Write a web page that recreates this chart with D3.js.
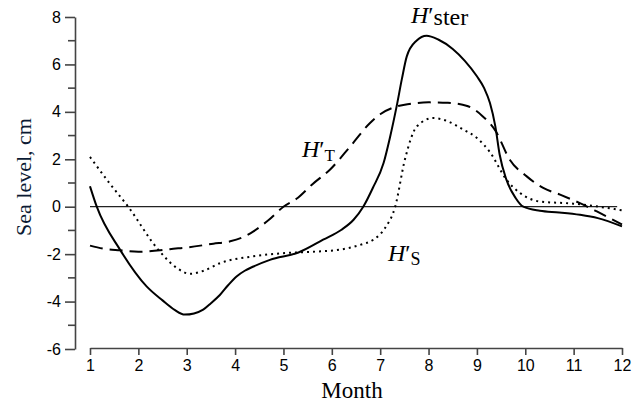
<!DOCTYPE html>
<html>
<head>
<meta charset="utf-8">
<script src="https://cdn.jsdelivr.net/npm/d3@7"></script>
<style>
  body { margin: 0; background: #fff; }
  svg { display: block; }
</style>
</head>
<body>
<div id="chart"></div>
<script>
// months (x) and sea level values (cm)
const sterMonths = [1, 1.14, 1.62, 2.17, 2.5, 2.75, 2.96, 3.15, 3.34, 3.5, 3.69, 3.86, 4.03, 4.2, 4.38, 4.72, 5.31, 5.82, 6.2, 6.45, 6.65, 6.85, 7.07, 7.2, 7.34, 7.45, 7.55, 7.75, 7.96, 8.2, 8.5, 8.75, 9.0, 9.15, 9.27, 9.38, 9.47, 9.61, 9.8, 9.96, 10.3, 10.7, 11.13, 11.5, 12];
const sterValues = [0.86, 0, -1.81, -3.36, -3.95, -4.35, -4.55, -4.5, -4.34, -4.07, -3.71, -3.3, -2.94, -2.7, -2.52, -2.24, -1.93, -1.39, -0.97, -0.55, 0, 0.8, 1.84, 2.9, 4.23, 5.4, 6.34, 7.0, 7.21, 7.05, 6.65, 6.15, 5.5, 5.0, 4.37, 3.4, 2.2, 1.14, 0.37, 0, -0.17, -0.24, -0.34, -0.48, -0.83];

const tMonths = [1, 1.3, 1.62, 2.0, 2.45, 2.65, 3.0, 3.55, 3.9, 4.2, 4.38, 4.7, 5.0, 5.3, 5.6, 5.96, 6.38, 6.79, 7.0, 7.3, 7.6, 8.0, 8.4, 8.8, 9.1, 9.39, 9.68, 10.03, 10.37, 10.72, 11.13, 11.48, 12];
const tValues = [-1.64, -1.78, -1.84, -1.9, -1.84, -1.79, -1.72, -1.56, -1.46, -1.25, -1.04, -0.55, 0, 0.38, 0.95, 1.56, 2.54, 3.53, 3.9, 4.2, 4.33, 4.4, 4.38, 4.25, 3.85, 3.18, 1.98, 1.28, 0.79, 0.51, 0.15, -0.2, -0.75];

const sMonths = [1, 1.4, 1.79, 2.41, 2.8, 3.07, 3.35, 3.69, 4.38, 5.07, 5.6, 6.17, 6.6, 6.86, 7.1, 7.31, 7.51, 7.76, 8.1, 8.4, 8.72, 9.0, 9.27, 9.61, 9.89, 10.3, 10.99, 12];
const sValues = [2.1, 1.0, 0, -1.81, -2.59, -2.83, -2.7, -2.38, -2.09, -1.95, -1.9, -1.81, -1.6, -1.39, -0.9, 0, 1.98, 3.39, 3.74, 3.6, 3.25, 2.9, 2.3, 1.14, 0.58, 0.22, 0.13, -0.15];

const monthTicks = [1, 2, 3, 4, 5, 6, 7, 8, 9, 10, 11, 12];
const levelTicks = [-6, -4, -2, 0, 2, 4, 6, 8];
const levelMinor = [-5, -3, -1, 1, 3, 5, 7];

const width = 633, height = 403;

const svg = d3.select("#chart").append("svg")
    .attr("width", width)
    .attr("height", height);

const x = d3.scaleLinear().domain([1, 12]).range([90, 622]);
const y = d3.scaleLinear().domain([-6, 8]).range([349, 17]);

const axisColor = "#444";
const tickFont = "'Liberation Sans', Arial, sans-serif";
const serif = "'Liberation Serif', 'Times New Roman', serif";

// y axis (plain hyphen for negatives, like the original)
const yAxis = svg.append("g")
    .attr("transform", "translate(75,0)")
    .call(d3.axisLeft(y).tickValues(levelTicks).tickFormat(d => String(d))
        .tickSize(10).tickSizeOuter(0).tickPadding(4));
yAxis.selectAll("text")
    .attr("font-family", tickFont)
    .attr("font-size", 16)
    .attr("fill", "#000");

// minor ticks
yAxis.selectAll(".minor")
    .data(levelMinor)
    .enter()
    .append("line")
    .attr("class", "minor")
    .attr("x1", -7)
    .attr("x2", 0)
    .attr("y1", d => y(d))
    .attr("y2", d => y(d));

// x axis, detached from y axis
const xAxis = svg.append("g")
    .attr("transform", "translate(0,348)")
    .call(d3.axisBottom(x).tickValues(monthTicks).tickSize(7).tickSizeOuter(0).tickPadding(5));
xAxis.selectAll("text")
    .attr("font-family", tickFont)
    .attr("font-size", 16)
    .attr("fill", "#000");

svg.selectAll(".domain, .tick line, .minor")
    .attr("stroke", axisColor)
    .attr("stroke-width", 1.6);

// zero line
svg.append("line")
    .attr("x1", x(1))
    .attr("x2", x(11.9))
    .attr("y1", y(0))
    .attr("y2", y(0))
    .attr("stroke", "#222")
    .attr("stroke-width", 1.2);

const line = d3.line()
    .x(d => x(d[0]))
    .y(d => y(d[1]))
    .curve(d3.curveMonotoneX);

const series = [
    { months: tMonths, values: tValues, dash: "13,7" },
    { months: sMonths, values: sValues, dash: "2,4" },
    { months: sterMonths, values: sterValues, dash: null }
];

svg.append("g")
    .selectAll("path")
    .data(series)
    .enter()
    .append("path")
    .attr("d", d => line(d.months.map((m, i) => [m, d.values[i]])))
    .attr("fill", "none")
    .attr("stroke", "#000")
    .attr("stroke-width", 2)
    .attr("stroke-dasharray", d => d.dash);

// axis titles
svg.append("text")
    .attr("x", 352)
    .attr("y", 398)
    .attr("text-anchor", "middle")
    .attr("font-family", serif)
    .attr("font-size", 23)
    .text("Month");

svg.append("text")
    .attr("transform", "translate(31,177) rotate(-90)")
    .attr("text-anchor", "middle")
    .attr("font-family", serif)
    .attr("font-size", 22)
    .attr("fill", "#0b1a33")
    .text("Sea level, cm");

// curve labels
const labels = [
    { x: 411, y: 23, sub: "ster", subSize: 24, shift: 2 },
    { x: 302, y: 157, sub: "T", subSize: 17, shift: 4 },
    { x: 388, y: 261, sub: "S", subSize: 18, shift: 4 }
];

labels.forEach(l => {
    const t = svg.append("text")
        .attr("x", l.x)
        .attr("y", l.y)
        .attr("font-family", serif)
        .attr("font-size", 24);
    t.append("tspan").attr("font-style", "italic").text("H");
    t.append("tspan").text("′");
    t.append("tspan")
        .attr("font-size", l.subSize)
        .attr("dy", l.shift)
        .text(l.sub);
});
</script>
</body>
</html>
